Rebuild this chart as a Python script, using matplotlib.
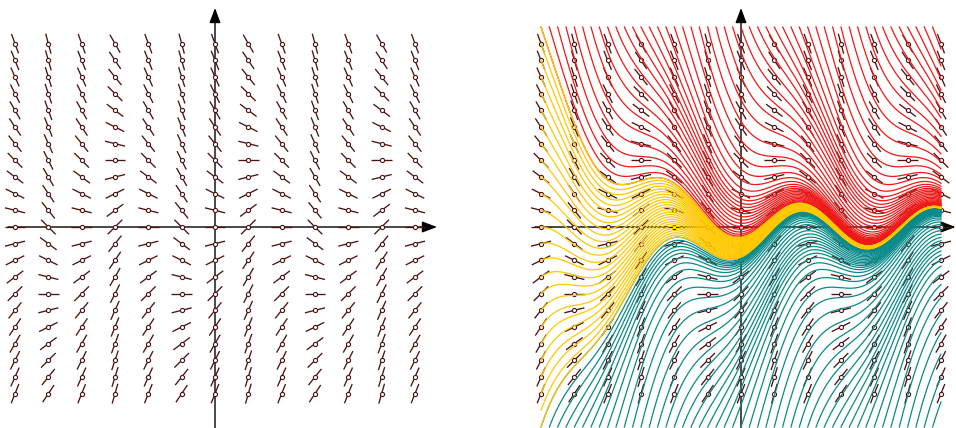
import numpy as np
import matplotlib
matplotlib.use("Agg")
import matplotlib.pyplot as plt
from matplotlib.collections import LineCollection

# slope field: dy/dx = sin(pi*x/2) - y/2
field_x = [-6, -5, -4, -3, -2, -1, 0, 1, 2, 3, 4, 5, 6]
field_y = [-5.0, -4.5, -4.0, -3.5, -3.0, -2.5, -2.0, -1.5, -1.0, -0.5, 0.0,
           0.5, 1.0, 1.5, 2.0, 2.5, 3.0, 3.5, 4.0, 4.5, 5.0, 5.5]

# starting points of the solution curves (right panel)
top_x = np.arange(-6, 6, 0.25)         # red, enter from y = 6
bottom_x = np.arange(-6, 6, 0.25)      # teal, enter from y = -6
left_y = np.arange(-6, 6.5, 0.5)       # yellow, start at x = -6

c_seg = "#4f1212"
c_red = "#f01818"
c_yellow = "#ffc800"
c_teal = "#0a8a8a"

W = np.pi / 2
K = 0.5


def slope(x, y):
    return np.sin(W * x) - K * y


def particular(x):
    return (K * np.sin(W * x) - W * np.cos(W * x)) / (K ** 2 + W ** 2)


def solution(x0, y0, x1=6.0, n=400):
    xs = np.linspace(x0, x1, n)
    ys = particular(xs) + (y0 - particular(x0)) * np.exp(-K * (xs - x0))
    return xs, ys


def draw_axes(ax, x0, x1, y0, y1):
    props = dict(arrowstyle="-|>,head_length=0.45,head_width=0.17",
                 color="black", lw=1.0, shrinkA=0, shrinkB=0,
                 mutation_scale=20)
    ax.annotate("", xy=(x1, 0), xytext=(x0, 0), arrowprops=props,
                annotation_clip=False, zorder=1)
    ax.annotate("", xy=(0, y1), xytext=(0, y0), arrowprops=props,
                annotation_clip=False, zorder=1)


def draw_field(ax):
    half = 0.31
    segs = []
    cx, cy = [], []
    for x in field_x:
        for y in field_y:
            s = slope(x, y)
            d = np.array([1.0, s]) / np.hypot(1.0, s) * half
            segs.append([(x - d[0], y - d[1]), (x + d[0], y + d[1])])
            cx.append(x)
            cy.append(y)
    ax.add_collection(LineCollection(segs, colors=c_seg, linewidths=0.95, zorder=2))
    ax.plot(cx, cy, "o", ms=3.0, mfc="white", mec=c_seg, mew=0.8,
            linestyle="none", zorder=3)


fig = plt.figure(figsize=(9.56, 4.28), dpi=100)
ppu = 33.33  # pixels per unit
ylim = (-(428 - 227) / ppu, 227 / ppu)

ax1 = fig.add_axes([0, 0, 478 / 956, 1])
ax1.set_xlim(-215 / ppu, (478 - 215) / ppu)
ax1.set_ylim(*ylim)
ax1.axis("off")
draw_axes(ax1, -6.21, 6.66, -6.05, 6.57)
draw_field(ax1)

ax2 = fig.add_axes([478 / 956, 0, 478 / 956, 1])
ax2.set_xlim((478 - 741) / ppu, (956 - 741) / ppu)
ax2.set_ylim(*ylim)
ax2.axis("off")
draw_axes(ax2, -6.18, 6.44, -6.05, 6.57)
draw_field(ax2)

for x0 in top_x:
    xs, ys = solution(x0, 6.0)
    ax2.plot(xs, ys, color=c_red, lw=0.9, zorder=4)
for x0 in bottom_x:
    xs, ys = solution(x0, -6.0)
    ax2.plot(xs, ys, color=c_teal, lw=0.9, zorder=4)
for y0 in left_y:
    xs, ys = solution(-6.0, y0)
    ax2.plot(xs, ys, color=c_yellow, lw=0.9, zorder=5)

fig.savefig("out.png", dpi=100)
